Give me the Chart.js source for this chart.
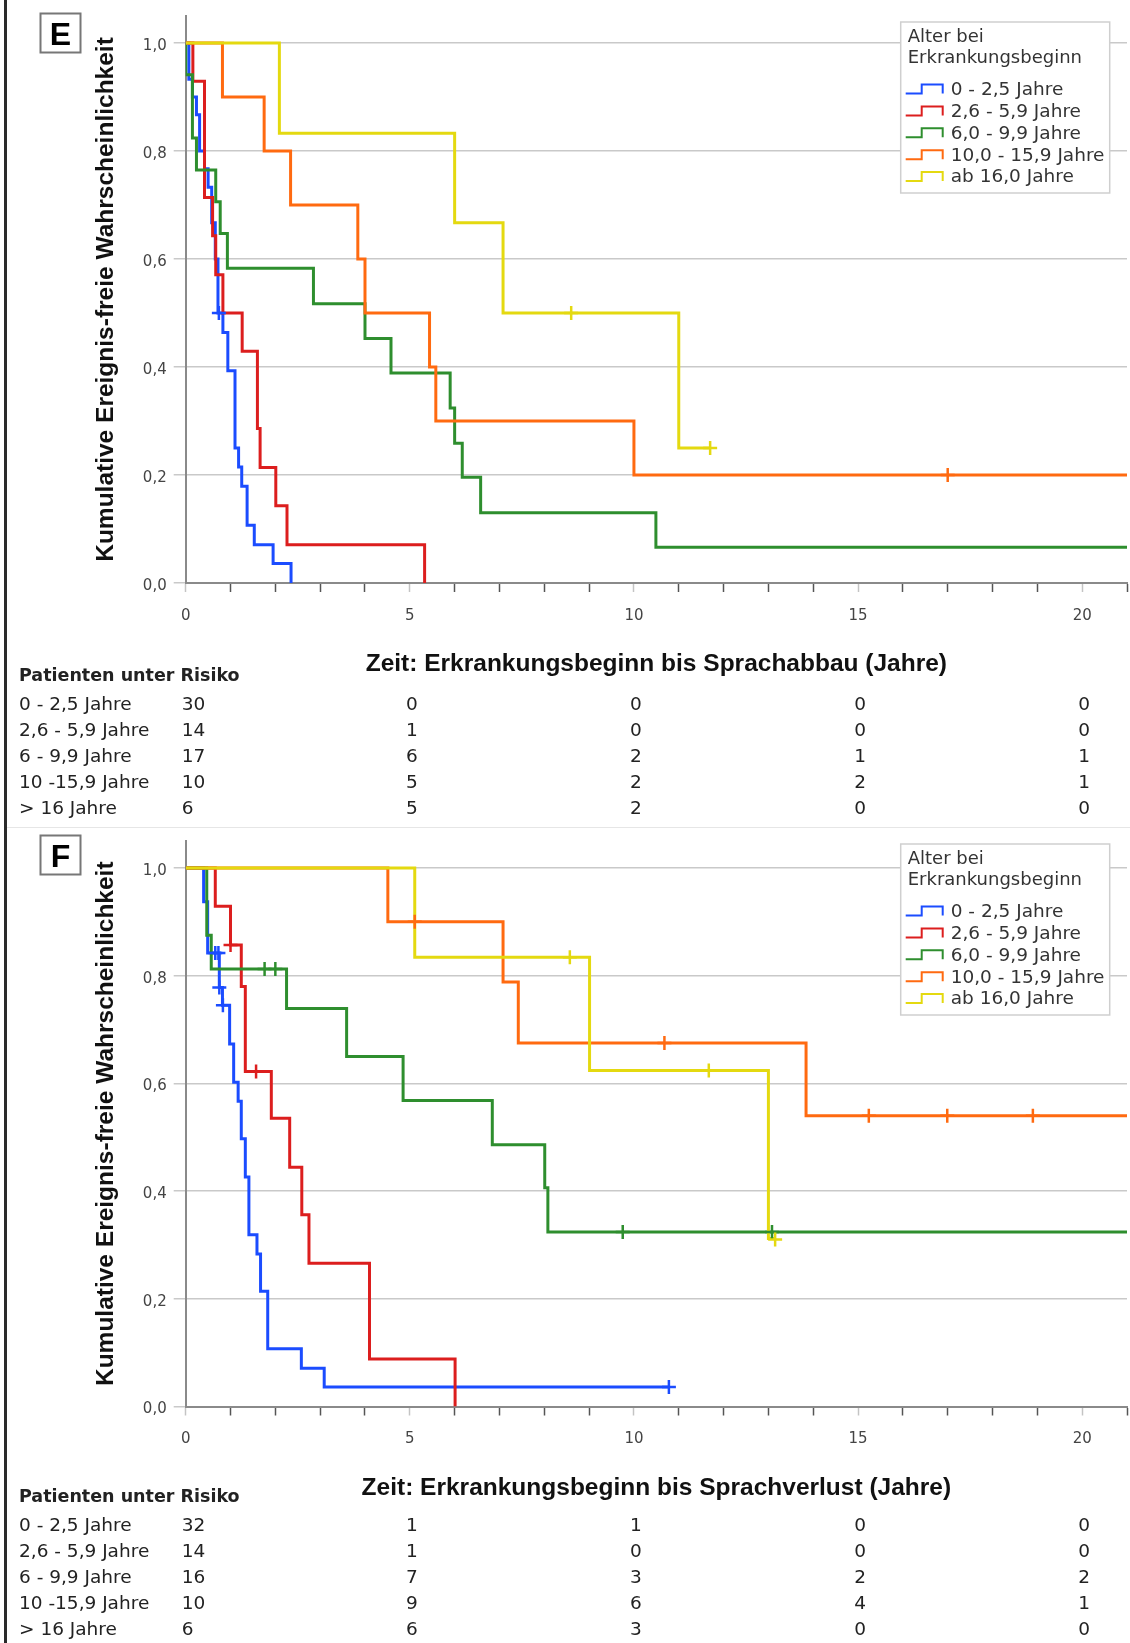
<!DOCTYPE html>
<html lang="de">
<head>
<meta charset="utf-8">
<title>Ereignis-freie Wahrscheinlichkeit nach Alter bei Erkrankungsbeginn</title>
<script src="https://cdn.jsdelivr.net/npm/chart.js@4.4.1/dist/chart.umd.min.js"></script>
<style>
  html, body { margin: 0; padding: 0; background: #fff; }
  #page { position: relative; width: 1130px; height: 1643px; overflow: hidden; background: #fff; }
  #page canvas { position: absolute; left: 0; }
  #chartE { top: 0; }
  #chartF { top: 828px; }
  .rule-left { position: absolute; left: 4px; top: 0; width: 3px; height: 1643px; background: #2a2a2a; z-index: 2; }
  .rule-mid { position: absolute; left: 7px; top: 827px; width: 1123px; height: 1px; background: #e6e6e6; z-index: 2; }
</style>
</head>
<body>
<div id="page">
  <canvas id="chartE" width="1130" height="828"></canvas>
  <canvas id="chartF" width="1130" height="815"></canvas>
  <div class="rule-left"></div>
  <div class="rule-mid"></div>
</div>
<script>
// Achsen
const xTicks = [0, 1, 2, 3, 4, 5, 6, 7, 8, 9, 10, 11, 12, 13, 14, 15, 16, 17, 18, 19, 20, 21];
const yTicks = [0, 0.2, 0.4, 0.6, 0.8, 1.0];
const groupLabels = ['0 - 2,5 Jahre', '2,6 - 5,9 Jahre', '6,0 - 9,9 Jahre', '10,0 - 15,9 Jahre', 'ab 16,0 Jahre'];
const riskLabels = ['0 - 2,5 Jahre', '2,6 - 5,9 Jahre', '6 - 9,9 Jahre', '10 -15,9 Jahre', '> 16 Jahre'];
const riskTimes = [0, 5, 10, 15, 20];

// E: Erkrankungsbeginn bis Sprachabbau
const eBlueT = [0, 0.07, 0.15, 0.24, 0.31, 0.42, 0.5, 0.58, 0.66, 0.72, 0.83, 0.94, 1.10, 1.18, 1.25, 1.37, 1.53, 1.95, 2.35];
const eBlueS = [1, 0.933, 0.9, 0.867, 0.8, 0.767, 0.733, 0.667, 0.6, 0.5, 0.464, 0.393, 0.25, 0.215, 0.179, 0.107, 0.071, 0.036, 0];
const eBlueCensT = [0.74];
const eBlueCensS = [0.5];
const eRedT = [0, 0.16, 0.42, 0.6, 0.67, 0.83, 1.26, 1.6, 1.66, 2.01, 2.26, 5.33];
const eRedS = [1, 0.929, 0.714, 0.643, 0.571, 0.5, 0.429, 0.286, 0.214, 0.143, 0.071, 0];
const eRedCensT = [];
const eRedCensS = [];
const eGreenT = [0, 0, 0.15, 0.24, 0.67, 0.77, 0.93, 2.85, 4.0, 4.58, 5.9, 6.0, 6.17, 6.58, 10.49, 21];
const eGreenS = [1, 0.941, 0.824, 0.765, 0.706, 0.647, 0.583, 0.517, 0.453, 0.389, 0.324, 0.259, 0.196, 0.13, 0.066, 0.066];
const eGreenCensT = [];
const eGreenCensS = [];
const eOrangeT = [0, 0.82, 1.75, 2.34, 3.84, 4.0, 5.44, 5.58, 10.0, 21];
const eOrangeS = [1, 0.9, 0.8, 0.7, 0.6, 0.5, 0.4, 0.3, 0.2, 0.2];
const eOrangeCensT = [17.0];
const eOrangeCensS = [0.2];
const eYellowT = [0, 2.09, 6.0, 7.08, 11.0, 11.7];
const eYellowS = [1, 0.833, 0.667, 0.5, 0.25, 0.25];
const eYellowCensT = [8.6, 11.7];
const eYellowCensS = [0.5, 0.25];
const eRiskBlue = [30, 0, 0, 0, 0];
const eRiskRed = [14, 1, 0, 0, 0];
const eRiskGreen = [17, 6, 2, 1, 1];
const eRiskOrange = [10, 5, 2, 2, 1];
const eRiskYellow = [6, 5, 2, 0, 0];

// F: Erkrankungsbeginn bis Sprachverlust
const fBlueT = [0, 0.4, 0.49, 0.75, 0.82, 0.98, 1.07, 1.17, 1.24, 1.33, 1.41, 1.59, 1.67, 1.83, 2.58, 3.09, 10.78];
const fBlueS = [1, 0.937, 0.842, 0.778, 0.745, 0.673, 0.602, 0.567, 0.497, 0.426, 0.319, 0.283, 0.214, 0.107, 0.071, 0.036, 0.036];
const fBlueCensT = [0.66, 0.73, 0.75, 0.83, 10.78];
const fBlueCensS = [0.842, 0.842, 0.778, 0.745, 0.036];
const fRedT = [0, 0.66, 1.0, 1.24, 1.33, 1.91, 2.32, 2.59, 2.75, 4.1, 6.01];
const fRedS = [1, 0.929, 0.857, 0.78, 0.622, 0.535, 0.444, 0.356, 0.266, 0.088, 0];
const fRedCensT = [1.0, 1.57];
const fRedCensS = [0.857, 0.622];
const fGreenT = [0, 0.47, 0.57, 2.25, 3.59, 4.85, 6.84, 8.01, 8.08, 21];
const fGreenS = [1, 0.875, 0.8125, 0.739, 0.65, 0.568, 0.486, 0.406, 0.324, 0.324];
const fGreenCensT = [1.76, 2.0, 9.75, 13.08];
const fGreenCensS = [0.8125, 0.8125, 0.324, 0.324];
const fOrangeT = [0, 4.51, 7.08, 7.42, 13.84, 21];
const fOrangeS = [1, 0.9, 0.788, 0.675, 0.54, 0.54];
const fOrangeCensT = [5.11, 10.68, 15.24, 16.99, 18.9];
const fOrangeCensS = [0.9, 0.675, 0.54, 0.54, 0.54];
const fYellowT = [0, 5.11, 9.01, 13.0, 13.15];
const fYellowS = [1, 0.834, 0.624, 0.312, 0.312];
const fYellowCensT = [8.57, 11.67, 13.15];
const fYellowCensS = [0.834, 0.624, 0.31];
const fRiskBlue = [32, 1, 1, 0, 0];
const fRiskRed = [14, 1, 0, 0, 0];
const fRiskGreen = [16, 7, 3, 2, 2];
const fRiskOrange = [10, 9, 6, 4, 1];
const fRiskYellow = [6, 6, 3, 0, 0];

const groupColors = ['#1b4cff', '#dc1e1e', '#2e8e2e', '#ff6a10', '#e4d910'];
const textColor = '#333';
const regular = '"DejaVu Sans", Verdana, sans-serif';
Chart.defaults.font.family = regular;

function pts(xs, ys) { return xs.map((x, i) => ({ x: x, y: ys[i] })); }

function makeExtras(p) {
  return {
    id: 'panelExtras',
    afterDraw(chart) {
      const ctx = chart.ctx;
      const xs = chart.scales.x;
      const base = chart.chartArea.bottom;
      ctx.save();

      // Buchstabe
      ctx.strokeStyle = '#777';
      ctx.lineWidth = 2;
      ctx.strokeRect(40.5, p.boxTop + 0.5, 40, 39);
      ctx.fillStyle = '#000';
      ctx.font = 'bold 32px "Liberation Sans", Arial, sans-serif';
      ctx.textAlign = 'center';
      ctx.textBaseline = 'alphabetic';
      ctx.fillText(p.letter, 60.5, p.boxTop + 31.5);

      // Legende
      const lx = 900.7, ly = p.legendTop, lw = 209, lh = 171;
      ctx.fillStyle = '#fff';
      ctx.fillRect(lx, ly, lw, lh);
      ctx.strokeStyle = '#cfcfcf';
      ctx.lineWidth = 1.5;
      ctx.strokeRect(lx, ly, lw, lh);
      ctx.font = '18px ' + regular;
      ctx.textAlign = 'left';
      ctx.textBaseline = 'middle';
      ctx.fillStyle = textColor;
      ctx.fillText('Alter bei', lx + 7, ly + 15);
      ctx.fillText('Erkrankungsbeginn', lx + 7, ly + 36.5);
      ctx.font = '18.5px ' + regular;
      groupLabels.forEach((lab, g) => {
        const cy = ly + 67 + g * 21.9;
        const x0 = lx + 5;
        ctx.strokeStyle = groupColors[g];
        ctx.lineWidth = 2;
        ctx.beginPath();
        ctx.moveTo(x0, cy + 4.5);
        ctx.lineTo(x0 + 16, cy + 4.5);
        ctx.lineTo(x0 + 16, cy - 4.5);
        ctx.lineTo(x0 + 37, cy - 4.5);
        ctx.lineTo(x0 + 37, cy + 4.5);
        ctx.stroke();
        ctx.fillStyle = textColor;
        ctx.fillText(lab, lx + 50, cy + 1);
      });

      // Patienten unter Risiko
      ctx.fillStyle = '#222';
      ctx.font = 'bold 17.5px ' + regular;
      ctx.fillText('Patienten unter Risiko', 19, base + p.headOff);
      ctx.font = '18.5px ' + regular;
      p.risk.forEach((row, r) => {
        const cy = base + p.rowOff + r * 26;
        ctx.textAlign = 'left';
        ctx.fillText(riskLabels[r], 19, cy);
        row.forEach((n, j) => {
          const px = xs.getPixelForValue(riskTimes[j]);
          if (j === 0) {
            ctx.textAlign = 'left';
            ctx.fillText(String(n), px - 4, cy);
          } else {
            ctx.textAlign = 'center';
            ctx.fillText(String(n), px + 2, cy);
          }
        });
      });
      ctx.restore();
    }
  };
}

function buildPanel(canvasId, p) {
  const datasets = [];
  p.times.forEach((t, g) => {
    datasets.push({
      type: 'line',
      data: pts(t, p.surv[g]),
      borderColor: groupColors[g],
      borderWidth: 3,
      stepped: true,
      pointRadius: 0,
      pointHitRadius: 0,
      fill: false,
      order: 10 - g
    });
    datasets.push({
      type: 'scatter',
      data: pts(p.censT[g], p.censS[g]),
      borderColor: groupColors[g],
      backgroundColor: groupColors[g],
      pointStyle: 'cross',
      pointRadius: 7,
      pointBorderWidth: 2.5,
      order: 5 - g
    });
  });

  const titleFont = { family: '"Liberation Sans", Arial, sans-serif', weight: 'bold', size: 24.5 };

  return new Chart(document.getElementById(canvasId), {
    data: { datasets: datasets },
    options: {
      responsive: false,
      devicePixelRatio: 1,
      animation: false,
      events: [],
      layout: { autoPadding: false, padding: { left: 86.6, right: 3, top: p.padTop, bottom: p.padBottom } },
      plugins: { legend: { display: false }, tooltip: { enabled: false } },
      scales: {
        x: {
          type: 'linear', min: 0, max: 21,
          afterBuildTicks: s => { s.ticks = xTicks.map(v => ({ value: v })); },
          afterFit: s => { s.height = 96.4; s.paddingRight = 0; },
          grid: {
            drawOnChartArea: false, drawTicks: true, tickLength: 9, color: '#555',
            tickColor: c => (c.tick && c.tick.value % 5 === 0) ? '#c4c4c4' : '#555',
            tickWidth: 1.5
          },
          border: { color: '#8a8a8a', width: 2 },
          ticks: {
            autoSkip: false, maxRotation: 0, padding: 15, color: '#444', font: { size: 15 },
            callback: v => (v % 5 === 0 ? String(v) : '')
          },
          title: {
            display: true, text: p.xTitle, color: '#111', font: titleFont,
            padding: { top: 0, bottom: 0 }
          }
        },
        y: {
          type: 'linear', min: 0, max: 1.05,
          afterBuildTicks: s => { s.ticks = yTicks.map(v => ({ value: v })); },
          afterFit: s => { s.width = 99.1; s.paddingTop = 0; s.paddingBottom = 0; },
          grid: { color: '#c9c9c9', lineWidth: 1.5, tickLength: 12, drawTicks: true },
          border: { color: '#8a8a8a', width: 2 },
          ticks: {
            padding: 7, labelOffset: 3, color: '#444', font: { size: 15 },
            callback: v => v.toFixed(1).replace('.', ',')
          },
          title: {
            display: true, text: 'Kumulative Ereignis-freie Wahrscheinlichkeit', color: '#111', font: titleFont,
            padding: { top: 5, bottom: 0 }
          }
        }
      }
    },
    plugins: [makeExtras(p)]
  });
}

buildPanel('chartE', {
  letter: 'E', boxTop: 13, legendTop: 22, padTop: 16, padBottom: 148.6, headOff: 93, rowOff: 122.5,
  xTitle: 'Zeit: Erkrankungsbeginn bis Sprachabbau (Jahre)',
  times: [eBlueT, eRedT, eGreenT, eOrangeT, eYellowT],
  surv: [eBlueS, eRedS, eGreenS, eOrangeS, eYellowS],
  censT: [eBlueCensT, eRedCensT, eGreenCensT, eOrangeCensT, eYellowCensT],
  censS: [eBlueCensS, eRedCensS, eGreenCensS, eOrangeCensS, eYellowCensS],
  risk: [eRiskBlue, eRiskRed, eRiskGreen, eRiskOrange, eRiskYellow]
});

buildPanel('chartF', {
  letter: 'F', boxTop: 7, legendTop: 16, padTop: 13, padBottom: 140.1, headOff: 90.5, rowOff: 120,
  xTitle: 'Zeit: Erkrankungsbeginn bis Sprachverlust (Jahre)',
  times: [fBlueT, fRedT, fGreenT, fOrangeT, fYellowT],
  surv: [fBlueS, fRedS, fGreenS, fOrangeS, fYellowS],
  censT: [fBlueCensT, fRedCensT, fGreenCensT, fOrangeCensT, fYellowCensT],
  censS: [fBlueCensS, fRedCensS, fGreenCensS, fOrangeCensS, fYellowCensS],
  risk: [fRiskBlue, fRiskRed, fRiskGreen, fRiskOrange, fRiskYellow]
});
</script>
</body>
</html>
